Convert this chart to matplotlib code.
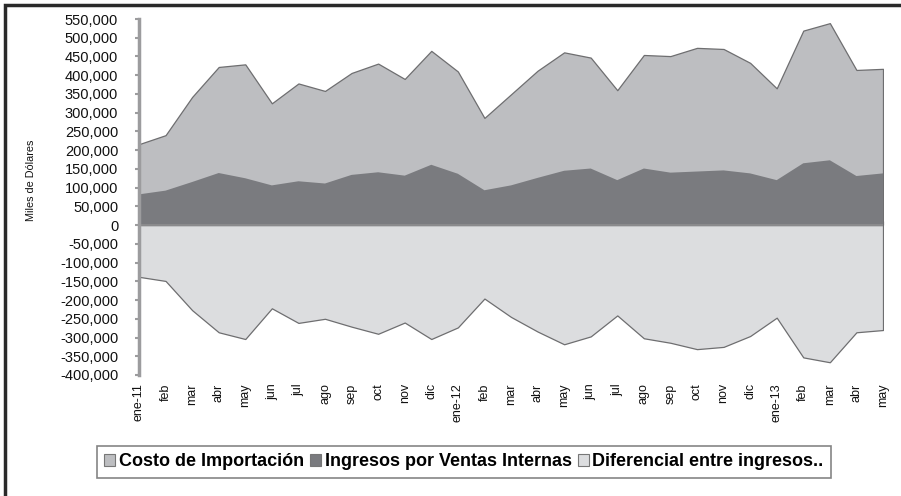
import matplotlib
matplotlib.use("Agg")
import matplotlib.pyplot as plt
from matplotlib.ticker import FuncFormatter
from matplotlib.patches import Rectangle, Patch

months = ["ene-11", "feb", "mar", "abr", "may", "jun", "jul", "ago", "sep", "oct", "nov", "dic",
          "ene-12", "feb", "mar", "abr", "may", "jun", "jul", "ago", "sep", "oct", "nov", "dic",
          "ene-13", "feb", "mar", "abr", "may"]
costo = [216, 240, 342, 422, 429, 325, 378, 358, 406, 431, 390, 465, 410, 286, 349, 412, 461, 447,
         360, 454, 451, 473, 470, 433, 365, 519, 539, 414, 417]
ingresos = [82, 92, 115, 139, 125, 106, 117, 111, 134, 141, 132, 161, 137, 93, 106, 126, 145, 151,
            120, 151, 140, 143, 146, 138, 120, 165, 173, 131, 138]
diferencial = [-138, -149, -227, -286, -304, -222, -261, -250, -271, -290, -260, -304, -273, -196,
               -245, -284, -318, -297, -241, -302, -314, -331, -325, -296, -247, -353, -366, -286, -280]
series_names = ["Costo de Importación", "Ingresos por Ventas Internas", "Diferencial entre ingresos.."]

costo = [v * 1000 for v in costo]
ingresos = [v * 1000 for v in ingresos]
diferencial = [v * 1000 for v in diferencial]

plt.rcParams['font.family'] = ['Liberation Sans', 'DejaVu Sans']

W, H = 901, 496
fig = plt.figure(figsize=(W / 100, H / 100), dpi=100)
fig.patch.set_facecolor('white')

L, R, T, B = 139, 883, 19, 375
ax = fig.add_axes([L / W, 1 - B / H, (R - L) / W, (B - T) / H])

x = list(range(len(months)))
c_costo = '#bdbec1'
c_ing = '#7a7b7f'
c_dif = '#dcdddf'
edge = '#6e6e70'

ax.fill_between(x, 0, costo, facecolor=c_costo, edgecolor=edge, linewidth=0.9, zorder=1)
ax.fill_between(x, 0, ingresos, facecolor=c_ing, edgecolor='none', linewidth=0, zorder=2)
ax.fill_between(x, 0, diferencial, facecolor=c_dif, edgecolor=edge, linewidth=0.9, zorder=1)
ax.axhline(0, color='#8a8a8c', linewidth=1.5, zorder=3)

ax.set_xlim(0, len(months) - 1)
ax.set_ylim(-400000, 550000)
ax.set_yticks(range(-400000, 550001, 50000))
ax.yaxis.set_major_formatter(FuncFormatter(lambda v, p: f"{int(v):,}"))

for s in ['top', 'right', 'bottom']:
    ax.spines[s].set_visible(False)
ax.spines['left'].set_color('#9c9c9e')
ax.spines['left'].set_linewidth(2.5)
ax.spines['left'].set_zorder(5)
ax.tick_params(axis='y', direction='out', length=3, width=1.5, color='#9c9c9e',
               labelsize=10.5, pad=12, labelcolor='#111111')

ax.set_xticks(x)
ax.set_xticklabels(months, rotation=90, va='top', ha='center')
ax.tick_params(axis='x', length=0, labelsize=9, pad=6, labelcolor='#111111')

sec = ax.secondary_xaxis(400000 / 950000)
sec.set_xticks(x)
sec.set_xticklabels([])
sec.tick_params(axis='x', direction='in', length=3, width=1, color='#b0b0b2')
sec.spines['bottom'].set_visible(False)
sec.spines['top'].set_visible(False)

ax.set_facecolor('white')

fig.text(31 / W, 1 - 180 / H, "Miles de Dólares", rotation=90, ha='center', va='center',
         fontsize=7.8, color='#111111')

# outer frame
fig.patches.append(Rectangle((5 / W, -0.05), 1.05, 1 - 5 / H + 0.05, transform=fig.transFigure,
                             fill=False, edgecolor='#2a2a2a', linewidth=2.5, zorder=10))

handles = [Patch(facecolor=c_costo, edgecolor='#777777', linewidth=0.8),
           Patch(facecolor=c_ing, edgecolor='#777777', linewidth=0.8),
           Patch(facecolor=c_dif, edgecolor='#777777', linewidth=0.8)]
leg = fig.legend(handles, series_names, loc='center', ncol=3,
                 bbox_to_anchor=(464 / W, 1 - 462 / H),
                 frameon=True, fancybox=False, edgecolor='#666666',
                 prop={'weight': 'bold', 'size': 13},
                 handlelength=0.6, handleheight=0.6, handletextpad=0.2, columnspacing=0.35,
                 borderpad=0.4)
leg.get_frame().set_linewidth(1.2)

fig.savefig('out.png', dpi=100)
